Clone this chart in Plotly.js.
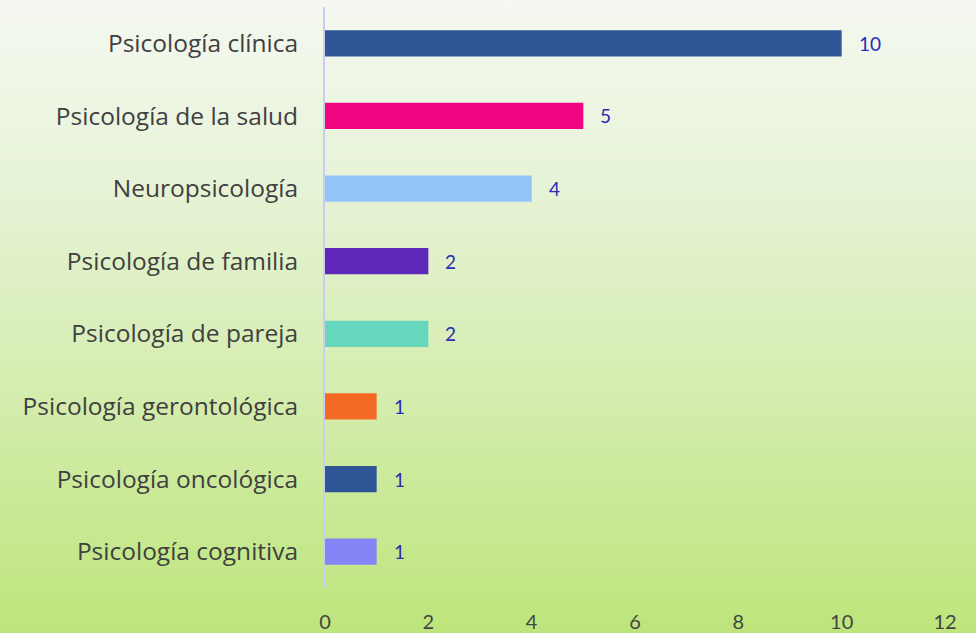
<!DOCTYPE html>
<html>
<head>
<meta charset="utf-8">
<script src="https://cdn.plot.ly/plotly-3.0.1.min.js"></script>
<style>
  html, body { margin: 0; padding: 0; }
  #chart {
    width: 976px; height: 633px;
    background: linear-gradient(to bottom, #f5f8f1 0%, #e6f3d6 30%, #d3ecaa 65%, #bde57b 100%);
  }
</style>
</head>
<body>
<div id="chart"></div>
<script>
// categories, top to bottom
var areas = [
  'Psicología clínica',
  'Psicología de la salud',
  'Neuropsicología',
  'Psicología de familia',
  'Psicología de pareja',
  'Psicología gerontológica',
  'Psicología oncológica',
  'Psicología cognitiva'
];
var counts = [10, 5, 4, 2, 2, 1, 1, 1];
var barColors = ['#2f5597', '#f0047f', '#93c4f8', '#5f27b8', '#66d7bc', '#f46a25', '#2f5597', '#8585f8'];

var font = 'Lato, "Open Sans", sans-serif';
var catFont = '"Open Sans", Lato, sans-serif';

var trace = {
  type: 'bar',
  orientation: 'h',
  x: counts,
  y: areas,
  marker: { color: barColors },
  width: 0.36,
  hoverinfo: 'x+y'
};

// value labels next to each bar
var labels = areas.map(function (a, i) {
  return {
    x: counts[i],
    y: a,
    text: String(counts[i]),
    showarrow: false,
    xanchor: 'left',
    xshift: 15,
    font: { family: font, size: 19, color: '#2b2bb5' }
  };
});

var layout = {
  width: 976,
  height: 633,
  margin: { l: 325, r: 31, t: 7, b: 45 },
  paper_bgcolor: 'rgba(0,0,0,0)',
  plot_bgcolor: 'rgba(0,0,0,0)',
  showlegend: false,
  xaxis: {
    range: [0, 12],
    dtick: 2,
    showgrid: false,
    zeroline: false,
    showline: false,
    ticklabelstandoff: 20,
    tickfont: { family: font, size: 20, color: '#444444' }
  },
  yaxis: {
    autorange: 'reversed',
    showgrid: false,
    zeroline: false,
    showline: true,
    linecolor: '#c9cdf2',
    linewidth: 2,
    ticklabelstandoff: 20,
    tickfont: { family: catFont, size: 24.5, color: '#404040' }
  },
  annotations: labels
};

Plotly.newPlot('chart', [trace], layout, { displayModeBar: false });
</script>
</body>
</html>
